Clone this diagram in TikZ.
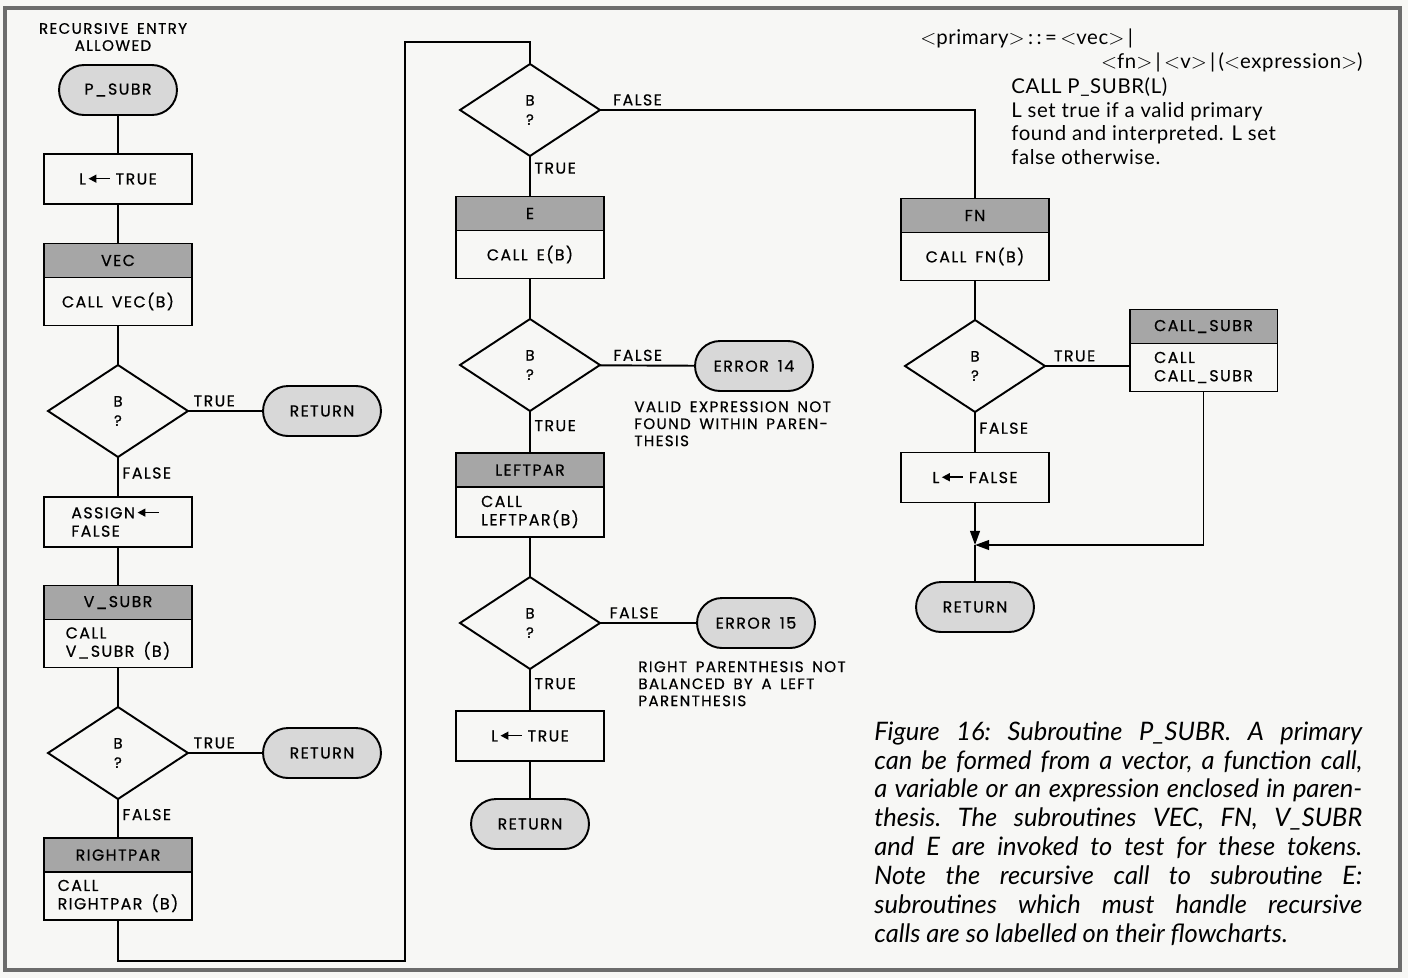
\documentclass[tikz,border=0pt]{standalone}
\usepackage{fontspec}
\setmainfont{Lato}
\newfontfamily\chartfont[LetterSpace=9, WordSpace=1.6, FakeBold=0.6]{Poppins}
\newfontfamily\notefamily[LetterSpace=3]{Lato}
\usetikzlibrary{arrows.meta,positioning,shapes.geometric,shapes.misc}
\definecolor{colHead}{HTML}{A6A6A6}
\definecolor{colTerm}{HTML}{D8D8D8}
\definecolor{colPaper}{HTML}{F7F7F5}
\definecolor{colFrame}{HTML}{6C6C6C}
\def\boxfont{\chartfont\fontsize{9pt}{10.4pt}\selectfont}
\def\testfont{\chartfont\fontsize{8.5pt}{11pt}\selectfont}
\def\remfont{\chartfont\fontsize{8.6pt}{9.7pt}\selectfont}
\def\notefont{\notefamily\fontsize{11.6pt}{13.6pt}\selectfont}
\def\capfont{\itshape\fontsize{14.5pt}{16.45pt}\selectfont\frenchspacing}
\newcommand{\getsarrow}{\kern1pt\tikz[baseline=-3.3pt]\draw[{Triangle[length=4.5pt,width=4.5pt]}-, line width=0.9pt] (0pt,0pt) -- (12pt,0pt);\kern3pt}
\newcommand{\lt}{\ensuremath{<}}
\newcommand{\gt}{\ensuremath{>}}

\tikzset{
  flow/.style={draw, line width=1.1pt, font=\boxfont, inner sep=2pt, outer sep=0pt},
  term/.style={flow, rounded rectangle, fill=colTerm, minimum width=2.5cm, minimum height=1cm},
  proc/.style={flow, rectangle, minimum width=2.96cm, minimum height=1cm, align=left},
  head/.style={flow, rectangle, fill=colHead, minimum width=2.96cm, minimum height=0.68cm},
  body/.style={flow, rectangle, minimum width=2.96cm, minimum height=0.96cm, align=left},
  test/.style={flow, diamond, font=\testfont, minimum width=2.8cm, minimum height=1.84cm, align=center},
  link/.style={line width=1.1pt},
  tip/.style={-{Triangle[length=8pt,width=5.5pt]}},
  tag/.style={font=\boxfont, inner sep=2pt},
  remark/.style={font=\remfont, align=left, inner sep=0pt, anchor=north west}
}

\begin{document}
\begin{tikzpicture}[x=0.02cm, y=-0.02cm]
\useasboundingbox (0,0) rectangle (1408,978);
\fill[colPaper] (0,0) rectangle (1408,978);
\draw[colFrame, line width=2.4pt] (5,8) rectangle (1400,970);

% ===================== LEFT COLUMN =====================
\node[font=\remfont, align=center, inner sep=0pt] (entry) at (113,37) {RECURSIVE ENTRY\\ALLOWED};
\node[term] (psubr) at (118,90) {P\_SUBR};
\node[proc] (setT) at (118,179) {L\getsarrow TRUE};
\node[head] (vec) at (118,260.5) {VEC};
\node[body, below=0pt of vec] (vecB) {CALL VEC(B)};
\node[test] (tVec) at (118,411) {B\\?};
\node[term] (retA) at (322,411) {RETURN};
\node[proc] (assign) at (118,522) {ASSIGN\getsarrow\\FALSE};
\node[head] (vsubr) at (118,602.5) {V\_SUBR};
\node[body, below=0pt of vsubr] (vsubrB) {CALL\\V\_SUBR (B)};
\node[test] (tVsubr) at (118,753) {B\\?};
\node[term] (retB) at (322,753) {RETURN};
\node[head] (rpar) at (118,855) {RIGHTPAR};
\node[body, below=0pt of rpar] (rparB) {CALL\\RIGHTPAR (B)};

\draw[link] (psubr) -- (setT);
\draw[link] (setT) -- (vec);
\draw[link] (vecB) -- (tVec);
\draw[link] (tVec) -- node[tag, above, pos=0.35] {TRUE} (retA);
\draw[link] (tVec) -- node[tag, right, pos=0.4] {FALSE} (assign);
\draw[link] (assign) -- (vsubr);
\draw[link] (vsubrB) -- (tVsubr);
\draw[link] (tVsubr) -- node[tag, above, pos=0.35] {TRUE} (retB);
\draw[link] (tVsubr) -- node[tag, right, pos=0.4] {FALSE} (rpar);

% loop over to the middle column
\coordinate (loopB) at (405,961);
\coordinate (loopT) at (405,42);

% ===================== MIDDLE COLUMN =====================
\node[test] (tE) at (530,110) {B\\?};
\node[head] (e) at (530,213.5) {E};
\node[body, below=0pt of e] (eB) {CALL E(B)};
\node[test] (tLpar) at (530,365) {B\\?};
\node[term] (err14) at (754,366) {ERROR 14};
\node[remark] (note14) at (634,401) {VALID EXPRESSION NOT\\FOUND WITHIN PAREN-\\THESIS};
\node[head] (lpar) at (530,470) {LEFTPAR};
\node[body, below=0pt of lpar, minimum height=1cm] (lparB) {CALL\\LEFTPAR(B)};
\node[test] (tRpar) at (530,623) {B\\?};
\node[term] (err15) at (756,623) {ERROR 15};
\node[remark] (note15) at (638,661) {RIGHT PARENTHESIS NOT\\BALANCED BY A LEFT\\PARENTHESIS};
\node[proc] (setT2) at (530,736) {L\getsarrow TRUE};
\node[term] (retC) at (530,824) {RETURN};

\draw[link] (rparB.south) |- (loopB) -- (loopT) -| (tE.north);
\draw[link] (tE) -- node[tag, right, pos=0.3] {TRUE} (e);
\draw[link] (eB) -- (tLpar);
\draw[link] (tLpar) -- node[tag, above, pos=0.4] {FALSE} (err14);
\draw[link] (tLpar) -- node[tag, right, pos=0.35] {TRUE} (lpar);
\draw[link] (lparB) -- (tRpar);
\draw[link] (tRpar) -- node[tag, above, pos=0.35] {FALSE} (err15);
\draw[link] (tRpar) -- node[tag, right, pos=0.35] {TRUE} (setT2);
\draw[link] (setT2) -- (retC);

% ===================== RIGHT COLUMN =====================
\node[head] (fn) at (975,215.5) {FN};
\node[body, below=0pt of fn] (fnB) {CALL FN(B)};
\node[test] (tFn) at (975,366) {B\\?};
\node[head] (csub) at (1203.5,326.5) {CALL\_SUBR};
\node[body, below=0pt of csub] (csubB) {CALL\\CALL\_SUBR};
\node[proc] (setF) at (975,477.5) {L\getsarrow FALSE};
\node[term] (retD) at (975,607) {RETURN};
\coordinate (join) at (975,545);

\draw[link] (tE.east) -| node[tag, above, pos=0.05] {FALSE} (fn.north);
\draw[link] (fnB) -- (tFn);
\draw[link] (tFn) -- node[tag, above, pos=0.35] {TRUE} (csubB.west |- tFn);
\draw[link] (tFn) -- node[tag, right, pos=0.4] {FALSE} (setF);
\draw[link, tip] (setF.south) -- (join);
\draw[link] (join) -- (retD.north);
\draw[link, tip] (csubB.south) |- (join);

% ===================== TEXTS =====================
\node[font=\notefont, anchor=west, inner sep=0pt] (grammar) at (920,38) {\lt primary\gt\,:\,:\,=\,\lt vec\gt\,|};
\node[font=\notefont, anchor=east, inner sep=0pt] (grammar2) at (1363,62) {\lt fn\gt\,|\,\lt v\gt\,|\,(\lt expression\gt)};
\node[font=\notefont, anchor=north west, align=left, inner sep=0pt] (usage) at (1011,77)
  {CALL P\_SUBR(L)\\L set true if a valid primary\\found and interpreted. L set\\false otherwise.};

\node[font=\capfont, anchor=north west, text width=9.76cm, align=justify, inner sep=0pt] (caption) at (874,721)
  {Figure 16: Subroutine P\_SUBR. A primary\linebreak
   can be formed from a vector, a function call,\linebreak
   a variable or an expression enclosed in paren-\linebreak
   thesis. The subroutines VEC, FN, V\_SUBR\linebreak
   and E are invoked to test for these tokens.\linebreak
   Note the recursive call to subroutine E:\linebreak
   subroutines which must handle recursive\linebreak
   calls are so labelled on their flowcharts.};
\end{tikzpicture}
\end{document}
